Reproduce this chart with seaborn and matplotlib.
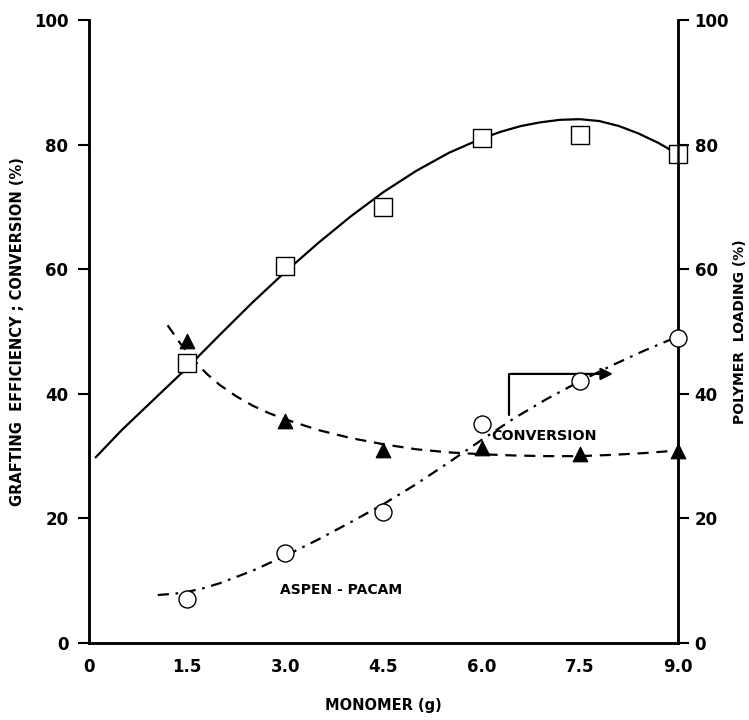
import numpy as np
import pandas as pd
import matplotlib
matplotlib.use("Agg")
import matplotlib.pyplot as plt
import seaborn as sns

# measured points
monomer = [1.5, 3.0, 4.5, 6.0, 7.5, 9.0]
grafting_eff = [45.0, 60.5, 70.0, 81.0, 81.5, 78.5]
conversion = [48.5, 35.7, 31.0, 31.3, 30.3, 30.8]
polymer_loading = [7.0, 14.5, 21.0, 35.2, 42.0, 49.0]

# hand-drawn fitted curves
ge_curve_x = [0.1, 0.5, 1.0, 1.5, 2.0, 2.5, 3.0, 3.5, 4.0, 4.5, 5.0, 5.5, 6.0,
              6.3, 6.6, 6.9, 7.2, 7.5, 7.8, 8.1, 8.4, 8.7, 9.0]
ge_curve_y = [29.8, 34.2, 39.2, 44.2, 49.5, 54.7, 59.6, 64.2, 68.5, 72.4, 75.8, 78.7, 81.0,
              82.1, 83.0, 83.6, 84.0, 84.1, 83.8, 83.0, 81.8, 80.3, 78.5]
conv_curve_x = [1.2, 1.4, 1.6, 1.8, 2.0, 2.25, 2.5, 2.75, 3.0, 3.5, 4.0, 4.5, 5.0, 5.5,
                6.0, 6.5, 7.0, 7.5, 8.0, 8.5, 9.0]
conv_curve_y = [51.0, 48.0, 45.4, 43.2, 41.4, 39.6, 38.1, 36.9, 35.9, 34.2, 32.9, 31.9, 31.1, 30.6,
                30.3, 30.1, 30.0, 30.0, 30.2, 30.5, 30.9]
pl_curve_x = [1.05, 1.3, 1.5, 1.75, 2.0, 2.5, 3.0, 3.5, 4.0, 4.5, 5.0, 5.5, 6.0, 6.5, 7.0,
              7.5, 8.0, 8.5, 9.0]
pl_curve_y = [7.7, 7.9, 8.2, 8.8, 9.6, 11.6, 14.0, 16.6, 19.4, 22.3, 25.5, 29.0, 32.6, 36.1, 39.2,
              42.0, 44.6, 47.0, 49.2]

sns.set_style("white")
plt.rcParams['font.family'] = ['DejaVu Sans']
plt.rcParams['font.weight'] = 'bold'
plt.rcParams['text.color'] = 'black'
plt.rcParams['axes.labelcolor'] = 'black'
plt.rcParams['xtick.color'] = 'black'
plt.rcParams['ytick.color'] = 'black'

fig = plt.figure(figsize=(7.49, 7.2), dpi=100)
ax = fig.add_axes([0.119, 0.107, 0.786, 0.865])
ax2 = ax.twinx()

sns.lineplot(x=ge_curve_x, y=ge_curve_y, ax=ax, color="black", lw=1.6, sort=False)
sns.lineplot(x=conv_curve_x, y=conv_curve_y, ax=ax, color="black", lw=1.6, sort=False)
ax.lines[-1].set_dashes([5, 3.5])
sns.lineplot(x=pl_curve_x, y=pl_curve_y, ax=ax2, color="black", lw=1.6, sort=False)
ax2.lines[-1].set_dashes([5, 3, 1.2, 3])

sns.scatterplot(x=monomer, y=grafting_eff, ax=ax, marker="s", s=150,
                facecolor="white", edgecolor="black", linewidth=1.0, zorder=5, clip_on=False)
sns.scatterplot(x=monomer, y=conversion, ax=ax, marker="^", s=110,
                color="black", edgecolor="black", zorder=5, clip_on=False)
sns.scatterplot(x=monomer, y=polymer_loading, ax=ax2, marker="o", s=150,
                facecolor="white", edgecolor="black", linewidth=1.0, zorder=5, clip_on=False)

for a in (ax, ax2):
    a.set_xlim(0, 9.0)
    a.set_ylim(0, 100)
    a.set_yticks([0, 20, 40, 60, 80, 100])
    a.spines['top'].set_visible(False)
    for s in a.spines.values():
        s.set_linewidth(1.8)
        s.set_color("black")

ax.set_xticks([0, 1.5, 3.0, 4.5, 6.0, 7.5, 9.0])
ax.set_xticklabels(["0", "1.5", "3.0", "4.5", "6.0", "7.5", "9.0"])
ax.tick_params(axis='x', direction='inout', length=10, width=1.5, labelsize=12, pad=6)
ax.tick_params(axis='y', direction='out', length=8, width=1.5, labelsize=12, pad=7)
ax2.tick_params(axis='y', direction='out', length=8, width=1.5, labelsize=12, pad=4)

ax.set_xlabel("MONOMER (g)", fontsize=10.5, fontweight='bold', labelpad=16)
ax.set_ylabel("GRAFTING  EFFICIENCY ; CONVERSION (%)", fontsize=10.5, fontweight='bold', labelpad=6)
ax2.set_ylabel("POLYMER  LOADING (%)", fontsize=10, fontweight='bold', labelpad=3)

# arrow pointing to the right-hand axis
ax.plot([6.42, 6.42], [36.6, 43.2], color="black", lw=1.6)
ax.annotate("", xy=(8.05, 43.2), xytext=(6.40, 43.2),
            arrowprops=dict(arrowstyle="-|>", color="black", lw=1.6, mutation_scale=18))

ax.text(6.95, 33.3, "CONVERSION", ha="center", va="center", fontsize=10.3, fontweight='bold')
ax.text(3.85, 8.5, "ASPEN - PACAM", ha="center", va="center", fontsize=10, fontweight='bold')

fig.savefig("out.png", dpi=100)
